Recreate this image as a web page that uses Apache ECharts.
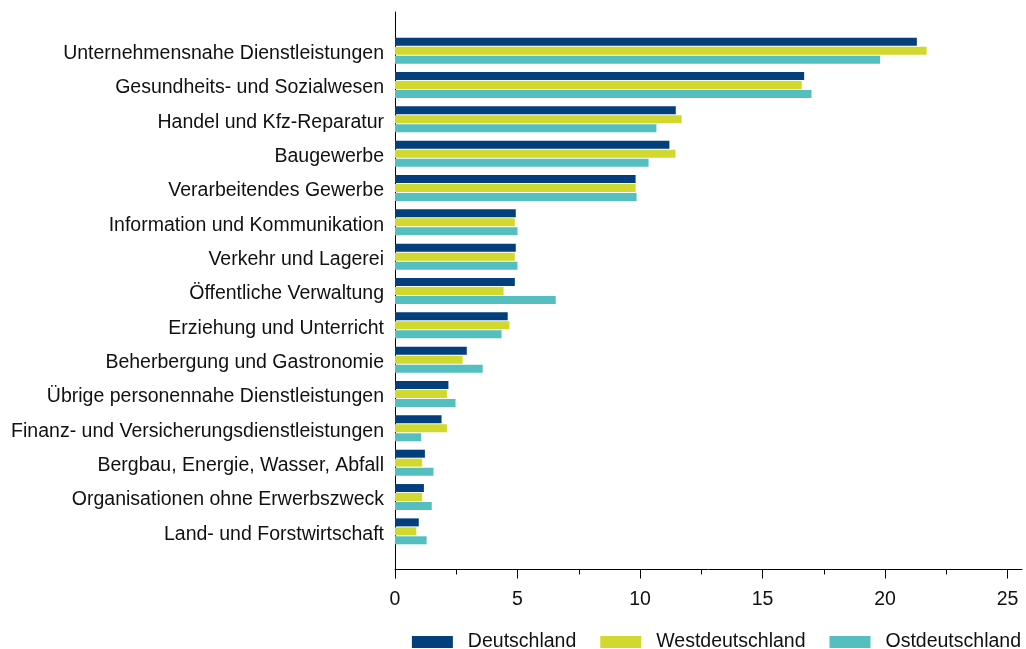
<!DOCTYPE html>
<html>
<head>
<meta charset="utf-8">
<script src="https://cdn.jsdelivr.net/npm/echarts@6/dist/echarts.min.js"></script>
<style>html,body{margin:0;padding:0;background:#fff;}#c{width:1026px;height:649px;}</style>
</head>
<body>
<div id="c"></div>
<script>
const categories = [
  "Unternehmensnahe Dienstleistungen",
  "Gesundheits- und Sozialwesen",
  "Handel und Kfz-Reparatur",
  "Baugewerbe",
  "Verarbeitendes Gewerbe",
  "Information und Kommunikation",
  "Verkehr und Lagerei",
  "Öffentliche Verwaltung",
  "Erziehung und Unterricht",
  "Beherbergung und Gastronomie",
  "Übrige personennahe Dienstleistungen",
  "Finanz- und Versicherungsdienstleistungen",
  "Bergbau, Energie, Wasser, Abfall",
  "Organisationen ohne Erwerbszweck",
  "Land- und Forstwirtschaft"
];
const deutschland      = [21.3, 16.7, 11.46, 11.2, 9.82, 4.93, 4.93, 4.89, 4.6, 2.93, 2.18, 1.9, 1.22, 1.18, 0.97];
const westdeutschland  = [21.7, 16.6, 11.7, 11.45, 9.82, 4.89, 4.89, 4.43, 4.67, 2.76, 2.12, 2.12, 1.11, 1.11, 0.87];
const ostdeutschland   = [19.8, 17.0, 10.67, 10.35, 9.86, 5.0, 5.0, 6.56, 4.35, 3.58, 2.47, 1.07, 1.57, 1.5, 1.29];
const seriesNames = ["Deutschland", "Westdeutschland", "Ostdeutschland"];
const colors = ["#023f7c", "#d2d92e", "#55bfc0"];

const FONT = "Liberation Sans, Arial, sans-serif";
const chart = echarts.init(document.getElementById('c'), null, {renderer: 'canvas'});
const mk = (name, data, color) => ({
  name, type: 'bar', data, xAxisIndex: 0, yAxisIndex: 0,
  barWidth: 8, barGap: '12%', itemStyle: {color}, silent: true
});
chart.setOption({
  animation: false,
  backgroundColor: '#fff',
  textStyle: {fontFamily: FONT},
  grid: [
    {left: 395, width: 612.5, top: 33.5, height: 515, containLabel: false},
    {left: 395, width: 627, top: 12, height: 557.5, containLabel: false}
  ],
  legend: {
    data: seriesNames,
    right: 0, bottom: -8,
    itemWidth: 41, itemHeight: 12, itemGap: 24,
    icon: 'rect',
    textStyle: {fontFamily: FONT, fontSize: 19.5, color: '#111', padding: [0, 0, 0, 10]}
  },
  xAxis: [
    {
      type: 'value', gridIndex: 0, min: 0, max: 25, interval: 5,
      position: 'bottom', offset: 21,
      axisLine: {show: false},
      axisTick: {show: true, length: 9, lineStyle: {color: '#000'}},
      minorTick: {show: true, splitNumber: 2, length: 5, lineStyle: {color: '#000'}},
      splitLine: {show: false},
      axisLabel: {fontFamily: FONT, fontSize: 19.5, color: '#111', margin: 20}
    },
    {
      type: 'value', gridIndex: 1, min: 0, max: 25.6,
      axisLine: {show: true, lineStyle: {color: '#000', width: 1}},
      axisTick: {show: false}, axisLabel: {show: false}, splitLine: {show: false}
    }
  ],
  yAxis: [
    {
      type: 'category', gridIndex: 0, data: categories, inverse: true,
      axisLine: {show: false}, axisTick: {show: false},
      axisLabel: {
        margin: 11,
        formatter: v => '{a|' + v + '}',
        rich: {a: {fontFamily: FONT, fontSize: 19.5, color: '#111', padding: [6, 0, 0, 0]}}
      }
    },
    {
      type: 'value', gridIndex: 1, min: 0, max: 1,
      axisLine: {show: true, lineStyle: {color: '#000', width: 1}},
      axisTick: {show: false}, axisLabel: {show: false}, splitLine: {show: false}
    }
  ],
  series: [
    mk(seriesNames[0], deutschland, colors[0]),
    mk(seriesNames[1], westdeutschland, colors[1]),
    mk(seriesNames[2], ostdeutschland, colors[2])
  ]
});
</script>
</body>
</html>
